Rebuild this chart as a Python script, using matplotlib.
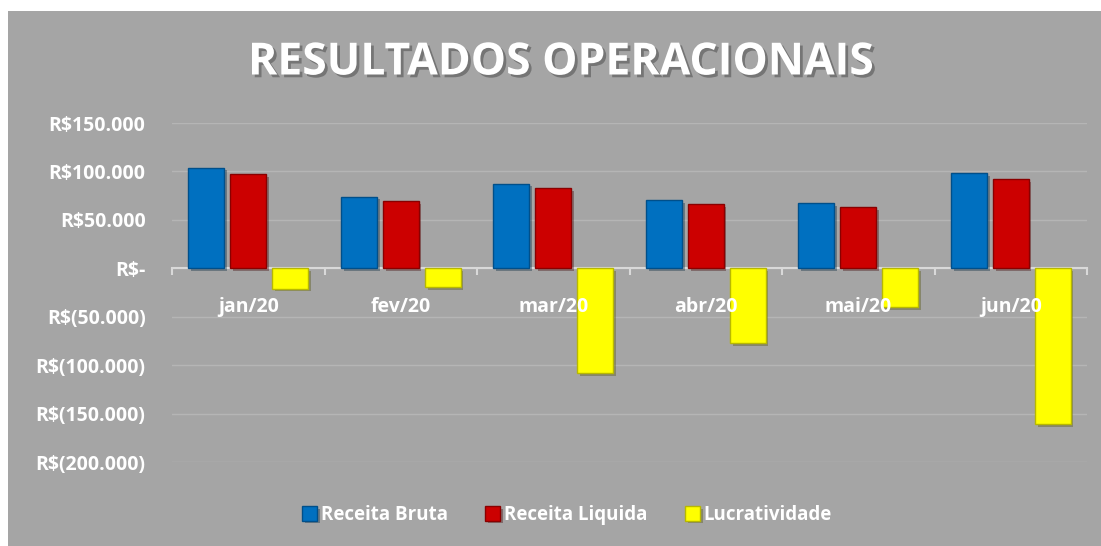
import matplotlib
matplotlib.use('Agg')
import matplotlib.pyplot as plt
import matplotlib.patheffects as pe
from matplotlib.patches import Rectangle
from matplotlib.ticker import FuncFormatter, FixedLocator
import numpy as np

# dados
meses = ['jan/20', 'fev/20', 'mar/20', 'abr/20', 'mai/20', 'jun/20']
receita_bruta = [104000, 74000, 87500, 70000, 67000, 98000]
receita_liquida = [97000, 69000, 82500, 66000, 63000, 92000]
lucratividade = [-21000, -19500, -108000, -77500, -40000, -161000]
series_nomes = ['Receita Bruta', 'Receita Liquida', 'Lucratividade']

cores = ['#0070C0', '#CC0000', '#FFFF00']
bordas = ['#004F8A', '#8A0000', '#B8B800']
fundo = '#A5A5A5'

plt.rcParams['font.family'] = ['Open Sans', 'DejaVu Sans']
plt.rcParams['font.weight'] = 'bold'

fig = plt.figure(figsize=(11.01, 5.46), dpi=100)
fig.patch.set_facecolor('white')
# area cinza do grafico
fig.patches.append(Rectangle((8 / 1101, 0), 1 - 8 / 1101, 1 - 11 / 546,
                             transform=fig.transFigure, facecolor=fundo,
                             edgecolor='none', zorder=-5))

ax = fig.add_axes([172 / 1101, 1 - 462 / 546, (1087 - 172) / 1101, (462 - 123) / 546])
ax.set_zorder(2)
ax.patch.set_alpha(0)

x = np.arange(len(meses))
largura = 0.235
passo = 0.275
sombra = [pe.SimplePatchShadow(offset=(2, -2), alpha=0.35), pe.Normal()]
for i, (nome, valores) in enumerate(zip(series_nomes, [receita_bruta, receita_liquida, lucratividade])):
    barras = ax.bar(x + (i - 1) * passo, valores, width=largura, color=cores[i],
                    edgecolor=bordas[i], linewidth=1, label=nome, zorder=3)
    for b in barras:
        b.set_path_effects(sombra)

ax.set_xlim(-0.5, len(meses) - 0.5)
ax.set_ylim(-200000, 150000)
ax.set_yticks(np.arange(-200000, 150001, 50000))


def moeda(v, pos):
    if v == 0:
        return 'R$-'
    s = '{:,.0f}'.format(abs(v)).replace(',', '.')
    return 'R$' + s if v > 0 else 'R$(' + s + ')'


ax.yaxis.set_major_formatter(FuncFormatter(moeda))
ax.grid(axis='y', color='#B5B5B5', linewidth=1, zorder=1)
ax.tick_params(axis='y', length=0, pad=19, labelsize=14, labelcolor='white')

# eixo x na linha do zero
for s in ['top', 'right', 'left']:
    ax.spines[s].set_visible(False)
ax.spines['bottom'].set_position(('data', 0))
ax.spines['bottom'].set_color('#D9D9D9')
ax.spines['bottom'].set_linewidth(1.5)
ax.spines['bottom'].set_zorder(2)
ax.set_xticks(x)
ax.set_xticklabels(meses)
ax.xaxis.set_minor_locator(FixedLocator(np.arange(-0.5, len(meses), 1)))
ax.tick_params(axis='x', which='major', length=0, pad=21, labelsize=14, labelcolor='white')
ax.tick_params(axis='x', which='minor', length=5, width=1.5, color='#D9D9D9')
ax.xaxis.set_zorder(5)

fig.text(0.51, 1 - 63 / 546, 'RESULTADOS OPERACIONAIS', ha='center', va='center',
         fontsize=32, fontweight='bold', color='white',
         path_effects=[pe.withSimplePatchShadow(offset=(2, -2), shadow_rgbFace='#555555', alpha=0.6)])

leg = fig.legend(loc='center', bbox_to_anchor=(567 / 1101, 1 - 515 / 546), ncol=3,
                 frameon=False, fontsize=13.5, handlelength=0.8, handleheight=0.8,
                 handletextpad=0.2, columnspacing=2.0)
for t in leg.get_texts():
    t.set_color('white')

fig.savefig('out.png', dpi=100, facecolor=fig.get_facecolor())
